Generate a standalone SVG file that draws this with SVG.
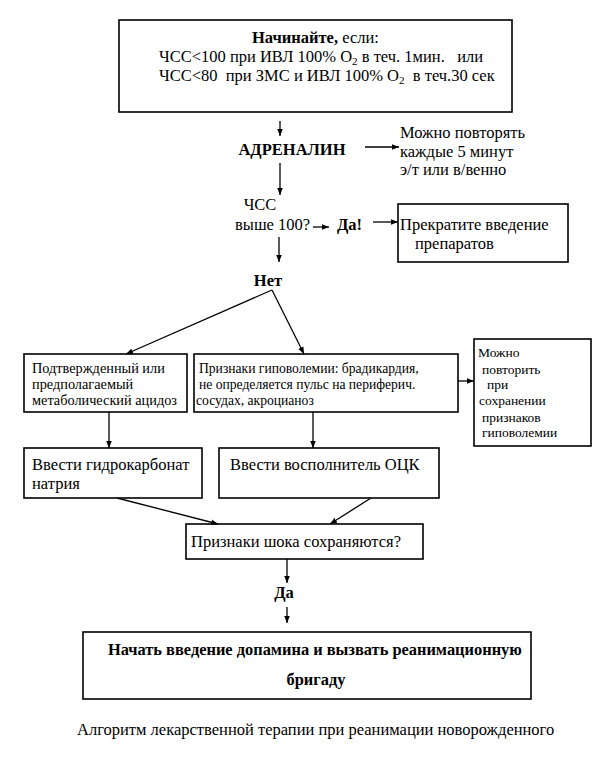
<svg xmlns="http://www.w3.org/2000/svg" width="600" height="764" viewBox="0 0 600 764">
<defs>
<marker id="ah" viewBox="0 0 10 10" refX="10" refY="5" markerWidth="7" markerHeight="7" markerUnits="userSpaceOnUse" orient="auto">
<path d="M0,1 L10,5 L0,9 z" fill="#000"/>
</marker>
</defs>
<style>
text{font-family:"Liberation Serif","Times New Roman",serif;fill:#000}
.b{font-weight:bold}
.box{fill:#fff;stroke:#000;stroke-width:1.6}
.c{stroke:#000;stroke-width:1.3;fill:none;marker-end:url(#ah)}
.tl{font-size:16.5px}
.tm{font-size:14.3px}
.tn{font-size:13.6px}
.ts{font-size:13.5px}
</style>
<rect width="600" height="764" fill="#fff"/>
<g id="start">
<rect class="box" x="119" y="20" width="393" height="92"/>
<text class="tl" x="252" y="43"><tspan class="b">Начинайте,</tspan> если:</text>
<text class="tl" x="159" y="62" xml:space="preserve">ЧСС&lt;100 при ИВЛ 100% O<tspan font-size="11" dy="3">2</tspan><tspan dy="-3"> в теч. 1мин.   или</tspan></text>
<text class="tl" x="159" y="81" xml:space="preserve">ЧСС&lt;80  при ЗМС и ИВЛ 100% O<tspan font-size="11" dy="3">2</tspan><tspan dy="-3">  в теч.30 сек</tspan></text>
</g>
<g id="adrenalin">
<text class="tl b" x="292" y="155" text-anchor="middle">АДРЕНАЛИН</text>
</g>
<g id="repeat">
<text class="tl" x="400" y="138">Можно повторять</text>
<text class="tl" x="400" y="157">каждые 5 минут</text>
<text class="tl" x="400" y="175">э/т или в/венно</text>
</g>
<g id="hr">
<text class="tl" x="260" y="210" text-anchor="middle">ЧСС</text>
<text class="tl" x="235" y="230">выше 100?</text>
</g>
<g id="yes1">
<text class="tl b" x="337" y="230">Да!</text>
</g>
<g id="stop">
<rect class="box" x="398" y="204" width="170" height="58"/>
<text class="tl" x="400" y="230">Прекратите введение</text>
<text class="tl" x="415" y="249">препаратов</text>
</g>
<g id="no">
<text class="tl b" x="268" y="286" text-anchor="middle">Нет</text>
</g>
<g id="acidosis">
<rect class="box" x="24" y="354" width="163" height="58"/>
<text class="tm" x="32" y="373">Подтвержденный или</text>
<text class="tm" x="32" y="389">предполагаемый</text>
<text class="tm" x="32" y="405">метаболический ацидоз</text>
</g>
<g id="hypovolemia">
<rect class="box" x="194" y="354" width="264" height="58"/>
<text class="tn" x="199" y="373">Признаки гиповолемии: брадикардия,</text>
<text class="tn" x="199" y="389">не определяется пульс на периферич.</text>
<text class="tn" x="196" y="405">сосудах, акроцианоз</text>
</g>
<g id="repeat2">
<rect class="box" x="474" y="339" width="117" height="107"/>
<text class="ts" x="478" y="357">Можно</text>
<text class="ts" x="482" y="374">повторить</text>
<text class="ts" x="487" y="389">при</text>
<text class="ts" x="479" y="405">сохранении</text>
<text class="ts" x="482" y="422">признаков</text>
<text class="ts" x="482" y="437">гиповолемии</text>
</g>
<g id="bicarb">
<rect class="box" x="24" y="448" width="178" height="50"/>
<text class="tl" x="32" y="470">Ввести гидрокарбонат</text>
<text class="tl" x="32" y="489">натрия</text>
</g>
<g id="volume">
<rect class="box" x="219" y="448" width="220" height="50"/>
<text class="tl" x="230" y="470">Ввести восполнитель ОЦК</text>
</g>
<g id="shock">
<rect class="box" x="186" y="524" width="237" height="35"/>
<text class="tl" x="191" y="547">Признаки шока сохраняются?</text>
</g>
<g id="yes2">
<text class="tl b" x="284" y="598" text-anchor="middle">Да</text>
</g>
<g id="dopamine">
<rect class="box" x="83" y="632" width="448" height="67"/>
<text class="b" font-size="16.4" x="108" y="655">Начать введение допамина и вызвать реанимационную</text>
<text class="b" font-size="16.4" x="316" y="685" text-anchor="middle">бригаду</text>
</g>
<g id="caption">
<text class="tl" x="77" y="735">Алгоритм лекарственной терапии при реанимации новорожденного</text>
</g>
<g id="connectors">
<line class="c" x1="280" y1="121" x2="280" y2="136"/>
<line class="c" x1="365" y1="147" x2="399" y2="147"/>
<line class="c" x1="280" y1="163" x2="280" y2="195"/>
<line class="c" x1="313" y1="227" x2="329" y2="227"/>
<line class="c" x1="373" y1="222" x2="398" y2="222"/>
<line class="c" x1="279" y1="237" x2="279" y2="262"/>
<line class="c" x1="272" y1="290" x2="126" y2="354"/>
<line class="c" x1="272" y1="290" x2="304" y2="354"/>
<line class="c" x1="458" y1="381" x2="474" y2="381"/>
<line class="c" x1="109" y1="412" x2="109" y2="448"/>
<line class="c" x1="313" y1="412" x2="313" y2="448"/>
<line class="c" x1="117" y1="498" x2="218" y2="524"/>
<line class="c" x1="371" y1="498" x2="330" y2="524"/>
<line class="c" x1="287" y1="559" x2="287" y2="583"/>
<line class="c" x1="287" y1="607" x2="287" y2="623"/>
</g>
</svg>
